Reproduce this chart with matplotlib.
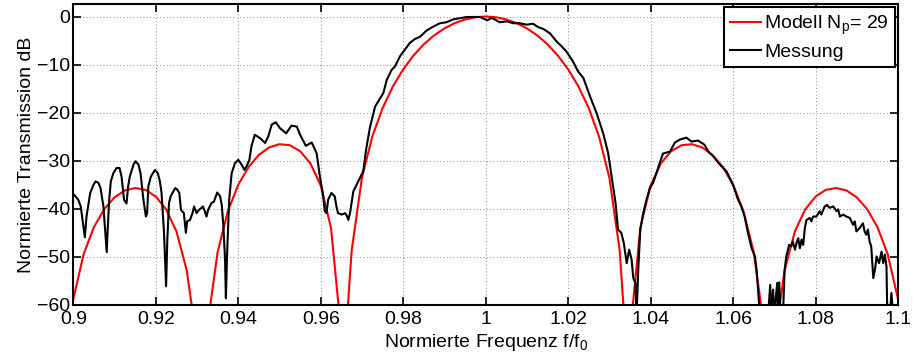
import matplotlib
matplotlib.use('Agg')
import matplotlib.pyplot as plt

plt.rcParams['font.family'] = ['Liberation Sans', 'DejaVu Sans']
plt.rcParams['mathtext.fontset'] = 'custom'
plt.rcParams['mathtext.rm'] = 'Liberation Sans'

# Modell (rot)
model_freq = [0.9000, 0.9025, 0.9050, 0.9075, 0.9100, 0.9125, 0.9150, 0.9175, 0.9200, 0.9225,
              0.9250, 0.9275, 0.9290, 0.9300, 0.9310, 0.9325, 0.9330, 0.9350, 0.9375, 0.9400,
              0.9425, 0.9450, 0.9475, 0.9500, 0.9525, 0.9550, 0.9575, 0.9600, 0.9625, 0.9645,
              0.9650, 0.9655, 0.9665, 0.9675, 0.9700, 0.9725, 0.9750, 0.9775, 0.9800, 0.9825,
              0.9850, 0.9875, 0.9900, 0.9925, 0.9950, 0.9975, 1.0000,
              1.0025, 1.0050, 1.0075, 1.0100, 1.0125, 1.0150, 1.0175, 1.0200, 1.0225, 1.0250,
              1.0275, 1.0300, 1.0325, 1.0335, 1.0345, 1.0350, 1.0355, 1.0375, 1.0400, 1.0425,
              1.0450, 1.0475, 1.0500, 1.0525, 1.0550, 1.0575, 1.0600, 1.0625, 1.0650, 1.0670,
              1.0675, 1.0690, 1.0700, 1.0710, 1.0725, 1.0750, 1.0775, 1.0800, 1.0825, 1.0850,
              1.0875, 1.0900, 1.0925, 1.0950, 1.0975, 1.1000]
model_db = [-58.78, -49.44, -43.79, -40.06, -37.61, -36.18, -35.67, -36.05, -37.45, -40.11,
            -44.66, -52.78, -61.8, -73.2, -100, -66.6, -61.4, -48.96, -40.43, -35.00,
            -31.30, -28.78, -27.23, -26.56, -26.77, -28.00, -30.55, -35.15, -44.00, -61.7,
            -73.2, -100, -61.3, -48.68, -33.51, -25.00, -19.06, -14.55, -10.98, -8.11,
            -5.79, -3.93, -2.47, -1.37, -0.61, -0.15, 0.00,
            -0.15, -0.61, -1.37, -2.47, -3.93, -5.79, -8.11, -10.98, -14.55, -19.06,
            -25.00, -33.51, -48.68, -61.3, -100, -73.2, -61.7, -44.00, -35.15, -30.55,
            -28.00, -26.77, -26.56, -27.23, -28.78, -31.30, -35.00, -40.43, -48.96, -61.4,
            -66.6, -100, -73.2, -61.8, -52.78, -44.66, -40.11, -37.45, -36.05, -35.67,
            -36.18, -37.61, -40.06, -43.79, -49.44, -58.78]

# Messung (schwarz)
meas_freq = [0.9002, 0.9012, 0.9018, 0.9028, 0.9032, 0.9041, 0.9049, 0.9054, 0.9061, 0.9066,
             0.9073, 0.9079, 0.9081, 0.9083, 0.9087, 0.9091, 0.9097, 0.9105, 0.9112, 0.9117,
             0.9123, 0.9129, 0.9133, 0.9137, 0.9146, 0.9151, 0.9158, 0.9163, 0.9170, 0.9176,
             0.9179, 0.9182, 0.9188, 0.9198, 0.9205, 0.9210, 0.9214, 0.9220, 0.9225, 0.9228,
             0.9232, 0.9236, 0.9247, 0.9252, 0.9257, 0.9261, 0.9268, 0.9273, 0.9276, 0.9283,
             0.9289, 0.9293, 0.9299, 0.9305, 0.9311, 0.9314, 0.9319, 0.9323, 0.9327, 0.9335,
             0.9341, 0.9349, 0.9356, 0.9360, 0.9364, 0.9368, 0.9370, 0.9373, 0.9378, 0.9384,
             0.9392, 0.9400, 0.9408, 0.9415, 0.9420, 0.9427, 0.9432, 0.9440, 0.9453, 0.9465,
             0.9473, 0.9481, 0.9491, 0.9501, 0.9516, 0.9529, 0.9542, 0.9550, 0.9564, 0.9578,
             0.9590, 0.9598, 0.9605, 0.9610, 0.9614, 0.9618, 0.9626, 0.9634, 0.9638, 0.9642,
             0.9651, 0.9659, 0.9663, 0.9667, 0.9671, 0.9679, 0.9691, 0.9703, 0.9710, 0.9719,
             0.9732, 0.9744, 0.9752, 0.9760, 0.9772, 0.9780, 0.9792, 0.9804, 0.9816, 0.9828,
             0.9841, 0.9857, 0.9873, 0.9889, 0.9905, 0.9921, 0.9954, 0.9986, 1.0002, 1.0004,
             1.0014, 1.0022, 1.0034, 1.0051, 1.0067, 1.0083, 1.0099, 1.0115, 1.0127, 1.0140,
             1.0156, 1.0172, 1.0184, 1.0196, 1.0212, 1.0224, 1.0237, 1.0253, 1.0269, 1.0285,
             1.0297, 1.0309, 1.0315, 1.0321, 1.0329, 1.0335, 1.0342, 1.0348, 1.0354, 1.0358,
             1.0363, 1.0366, 1.0370, 1.0375, 1.0382, 1.0390, 1.0398, 1.0406, 1.0414, 1.0422,
             1.0430, 1.0447, 1.0459, 1.0471, 1.0487, 1.0499, 1.0515, 1.0531, 1.0540, 1.0552,
             1.0568, 1.0584, 1.0600, 1.0612, 1.0620, 1.0628, 1.0636, 1.0645, 1.0653, 1.0657,
             1.0661, 1.0665, 1.0685, 1.0690, 1.0693, 1.0697, 1.0700, 1.0707, 1.0709, 1.0712,
             1.0715, 1.0721, 1.0725, 1.0729, 1.0736, 1.0741, 1.0745, 1.0750, 1.0754, 1.0758,
             1.0762, 1.0766, 1.0770, 1.0774, 1.0778, 1.0786, 1.0790, 1.0794, 1.0802, 1.0810,
             1.0814, 1.0822, 1.0828, 1.0834, 1.0843, 1.0851, 1.0855, 1.0859, 1.0867, 1.0875,
             1.0883, 1.0891, 1.0895, 1.0899, 1.0907, 1.0915, 1.0919, 1.0923, 1.0927, 1.0931,
             1.0935, 1.0940, 1.0944, 1.0948, 1.0954, 1.0960, 1.0964, 1.0968, 1.0972, 1.0974,
             1.0980, 1.0984, 1.0988, 1.1000]
meas_db = [-37.1, -38.1, -39.5, -45.9, -41.6, -36.7, -35.0, -34.3, -34.6, -35.7,
           -39.5, -46.4, -49.0, -45.0, -38.1, -34.3, -32.6, -31.5, -31.5, -33.3,
           -38.1, -38.9, -35.3, -33.3, -30.8, -30.1, -30.8, -32.6, -38.1, -41.6,
           -40.9, -35.3, -33.3, -31.9, -32.6, -34.3, -36.7, -45.0, -56.1, -46.4,
           -38.8, -37.4, -35.7, -36.0, -36.7, -40.2, -40.9, -45.0, -42.6, -42.3,
           -40.9, -39.5, -40.9, -40.2, -39.8, -39.5, -40.5, -41.6, -40.2, -38.8,
           -38.5, -36.6, -37.4, -39.2, -43.7, -50.6, -58.6, -49.2, -38.1, -32.6,
           -30.5, -29.8, -30.8, -31.9, -31.2, -29.8, -27.0, -24.6, -25.3, -26.3,
           -24.9, -22.5, -22.0, -23.2, -24.3, -22.7, -22.9, -24.6, -26.9, -26.2,
           -28.4, -33.3, -36.7, -40.5, -40.9, -38.1, -36.7, -37.4, -39.5, -40.9,
           -41.2, -40.9, -41.4, -42.3, -40.9, -36.4, -34.3, -32.2, -27.7, -23.2,
           -18.7, -17.0, -15.9, -13.2, -11.1, -10.4, -8.3, -6.9, -5.5, -4.7,
           -4.2, -2.9, -2.1, -1.4, -1.2, -0.6, -0.1, -0.1, -0.7, -0.8,
           -0.3, -0.6, -1.2, -1.0, -1.4, -1.4, -1.7, -1.5, -2.2, -2.6,
           -3.5, -5.2, -6.2, -7.3, -9.4, -11.4, -12.8, -16.6, -20.1, -24.3,
           -28.4, -35.3, -38.8, -44.3, -45.0, -47.1, -51.3, -48.5, -50.6, -54.4,
           -55.4, -62.0, -52.7, -44.3, -40.9, -38.1, -35.7, -34.6, -32.6, -30.5,
           -28.5, -28.1, -26.2, -25.6, -25.2, -26.0, -25.8, -26.7, -28.1, -29.1,
           -30.8, -32.2, -35.0, -38.1, -39.5, -41.6, -45.0, -48.2, -49.9, -52.7,
           -57.5, -62.0, -62.0, -55.8, -62.0, -56.8, -62.0, -55.4, -62.0, -55.3,
           -62.0, -62.0, -52.7, -49.9, -47.5, -47.8, -46.8, -48.5, -47.1, -46.1,
           -48.2, -46.4, -47.5, -44.0, -42.3, -41.9, -42.6, -41.6, -41.6, -40.5,
           -41.2, -39.5, -39.2, -39.8, -39.5, -40.5, -40.1, -41.6, -41.2, -41.6,
           -41.9, -43.3, -42.6, -44.7, -44.0, -43.0, -44.7, -45.4, -44.3, -46.8,
           -47.8, -54.4, -52.7, -49.9, -51.3, -48.9, -51.3, -49.5, -52.0, -62.0,
           -62.0, -57.5, -62.0, -62.0]

xticks = [0.9, 0.92, 0.94, 0.96, 0.98, 1.0, 1.02, 1.04, 1.06, 1.08, 1.1]
xtick_labels = ['0.9', '0.92', '0.94', '0.96', '0.98', '1', '1.02', '1.04', '1.06', '1.08', '1.1']
yticks = [-60, -50, -40, -30, -20, -10, 0]

fig = plt.figure(figsize=(9.13, 3.64), dpi=100)
ax = fig.add_axes([0.0803, 0.1621, 0.9033, 0.8269])

ax.plot(model_freq, model_db, color='red', lw=1.5, label=r'Modell N$_\mathregular{p}$= 29')
ax.plot(meas_freq, meas_db, color='black', lw=1.5, label='Messung')

ax.set_xlim(0.9, 1.1)
ax.set_ylim(-60, 2.6)
ax.set_xticks(xticks)
ax.set_xticklabels(xtick_labels)
ax.set_yticks(yticks)
ax.tick_params(direction='in', top=True, right=True, length=6, width=1.2,
               labelsize=14)
ax.tick_params(axis='x', pad=4)
ax.tick_params(axis='y', pad=2)
ax.grid(True, color='0.4', ls=(0, (1, 3)), lw=0.6)
for s in ax.spines.values():
    s.set_linewidth(1.5)

ax.set_xlabel(r'Normierte Frequenz f/f$_\mathregular{0}$', fontsize=14, labelpad=3)
ax.set_ylabel('Normierte Transmission dB', fontsize=14, labelpad=2)

leg = ax.legend(loc='upper right', fancybox=False, edgecolor='black', framealpha=1,
                fontsize=14, handlelength=1.6, handletextpad=0.15, borderaxespad=0.17,
                labelspacing=0.35, borderpad=0.3)
leg.get_frame().set_linewidth(1.5)

fig.savefig('out.png', dpi=100)
